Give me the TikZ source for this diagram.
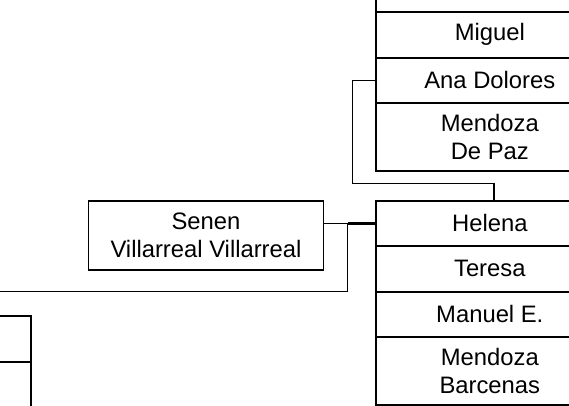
\documentclass[tikz,border=0pt]{standalone}
\usepackage{fontspec}
\setmainfont{Liberation Sans}
\begin{document}
\begin{tikzpicture}[x=1pt,y=-1pt,
  cell/.style={draw=black, line width=1.6pt, anchor=north west, minimum width=228pt,
    inner sep=0pt, align=center, text=black,
    font=\fontsize{23.8}{28.6}\selectfont},
  conn/.style={draw=black, line width=1.5pt},
  connthick/.style={draw=black, line width=2.7pt}]
\clip (0,0) rectangle (569,406);
\useasboundingbox (0,0) rectangle (569,406);
% top stack
\node[cell, minimum height=45pt] (top0) at (375,-34) {};
\node[cell, minimum height=46pt] (miguel) at (375,11) {Miguel};
\node[cell, minimum height=45pt] (ana) at (375,57) {Ana Dolores};
\node[cell, minimum height=68pt] (mdp) at (375,102) {Mendoza\\De Paz};
% middle stack
\node[cell, minimum height=45pt] (helena) at (375,200) {Helena};
\node[cell, minimum height=46pt] (teresa) at (375,245) {Teresa};
\node[cell, minimum height=45pt] (manuel) at (375,291) {Manuel E.};
\node[cell, minimum height=68pt] (mb) at (375,336) {Mendoza\\Barcenas};
% senen
\node[cell, minimum width=235pt, minimum height=69pt] (senen) at (87.7,200) {Senen\\Villarreal Villarreal};
% bottom-left stack
\node[cell, minimum height=46pt] (bl1) at (-198,315) {};
\node[cell, minimum height=44.5pt] (bl2) at (-198,361) {};
% connectors
\coordinate (j1) at (352.7,183.3);
\coordinate (j2) at (347.7,223);
\coordinate (lend) at (-5,291.7);
\draw[conn] (ana.west) -| (j1) -| ([xshift=4pt]helena.north);
\draw[conn] (senen.east |- helena.west) -- (helena.west);
\draw[connthick] (j2 |- helena.west) -- (helena.west);
\draw[conn] (j2 |- helena.west) |- (lend);
\end{tikzpicture}
\end{document}
